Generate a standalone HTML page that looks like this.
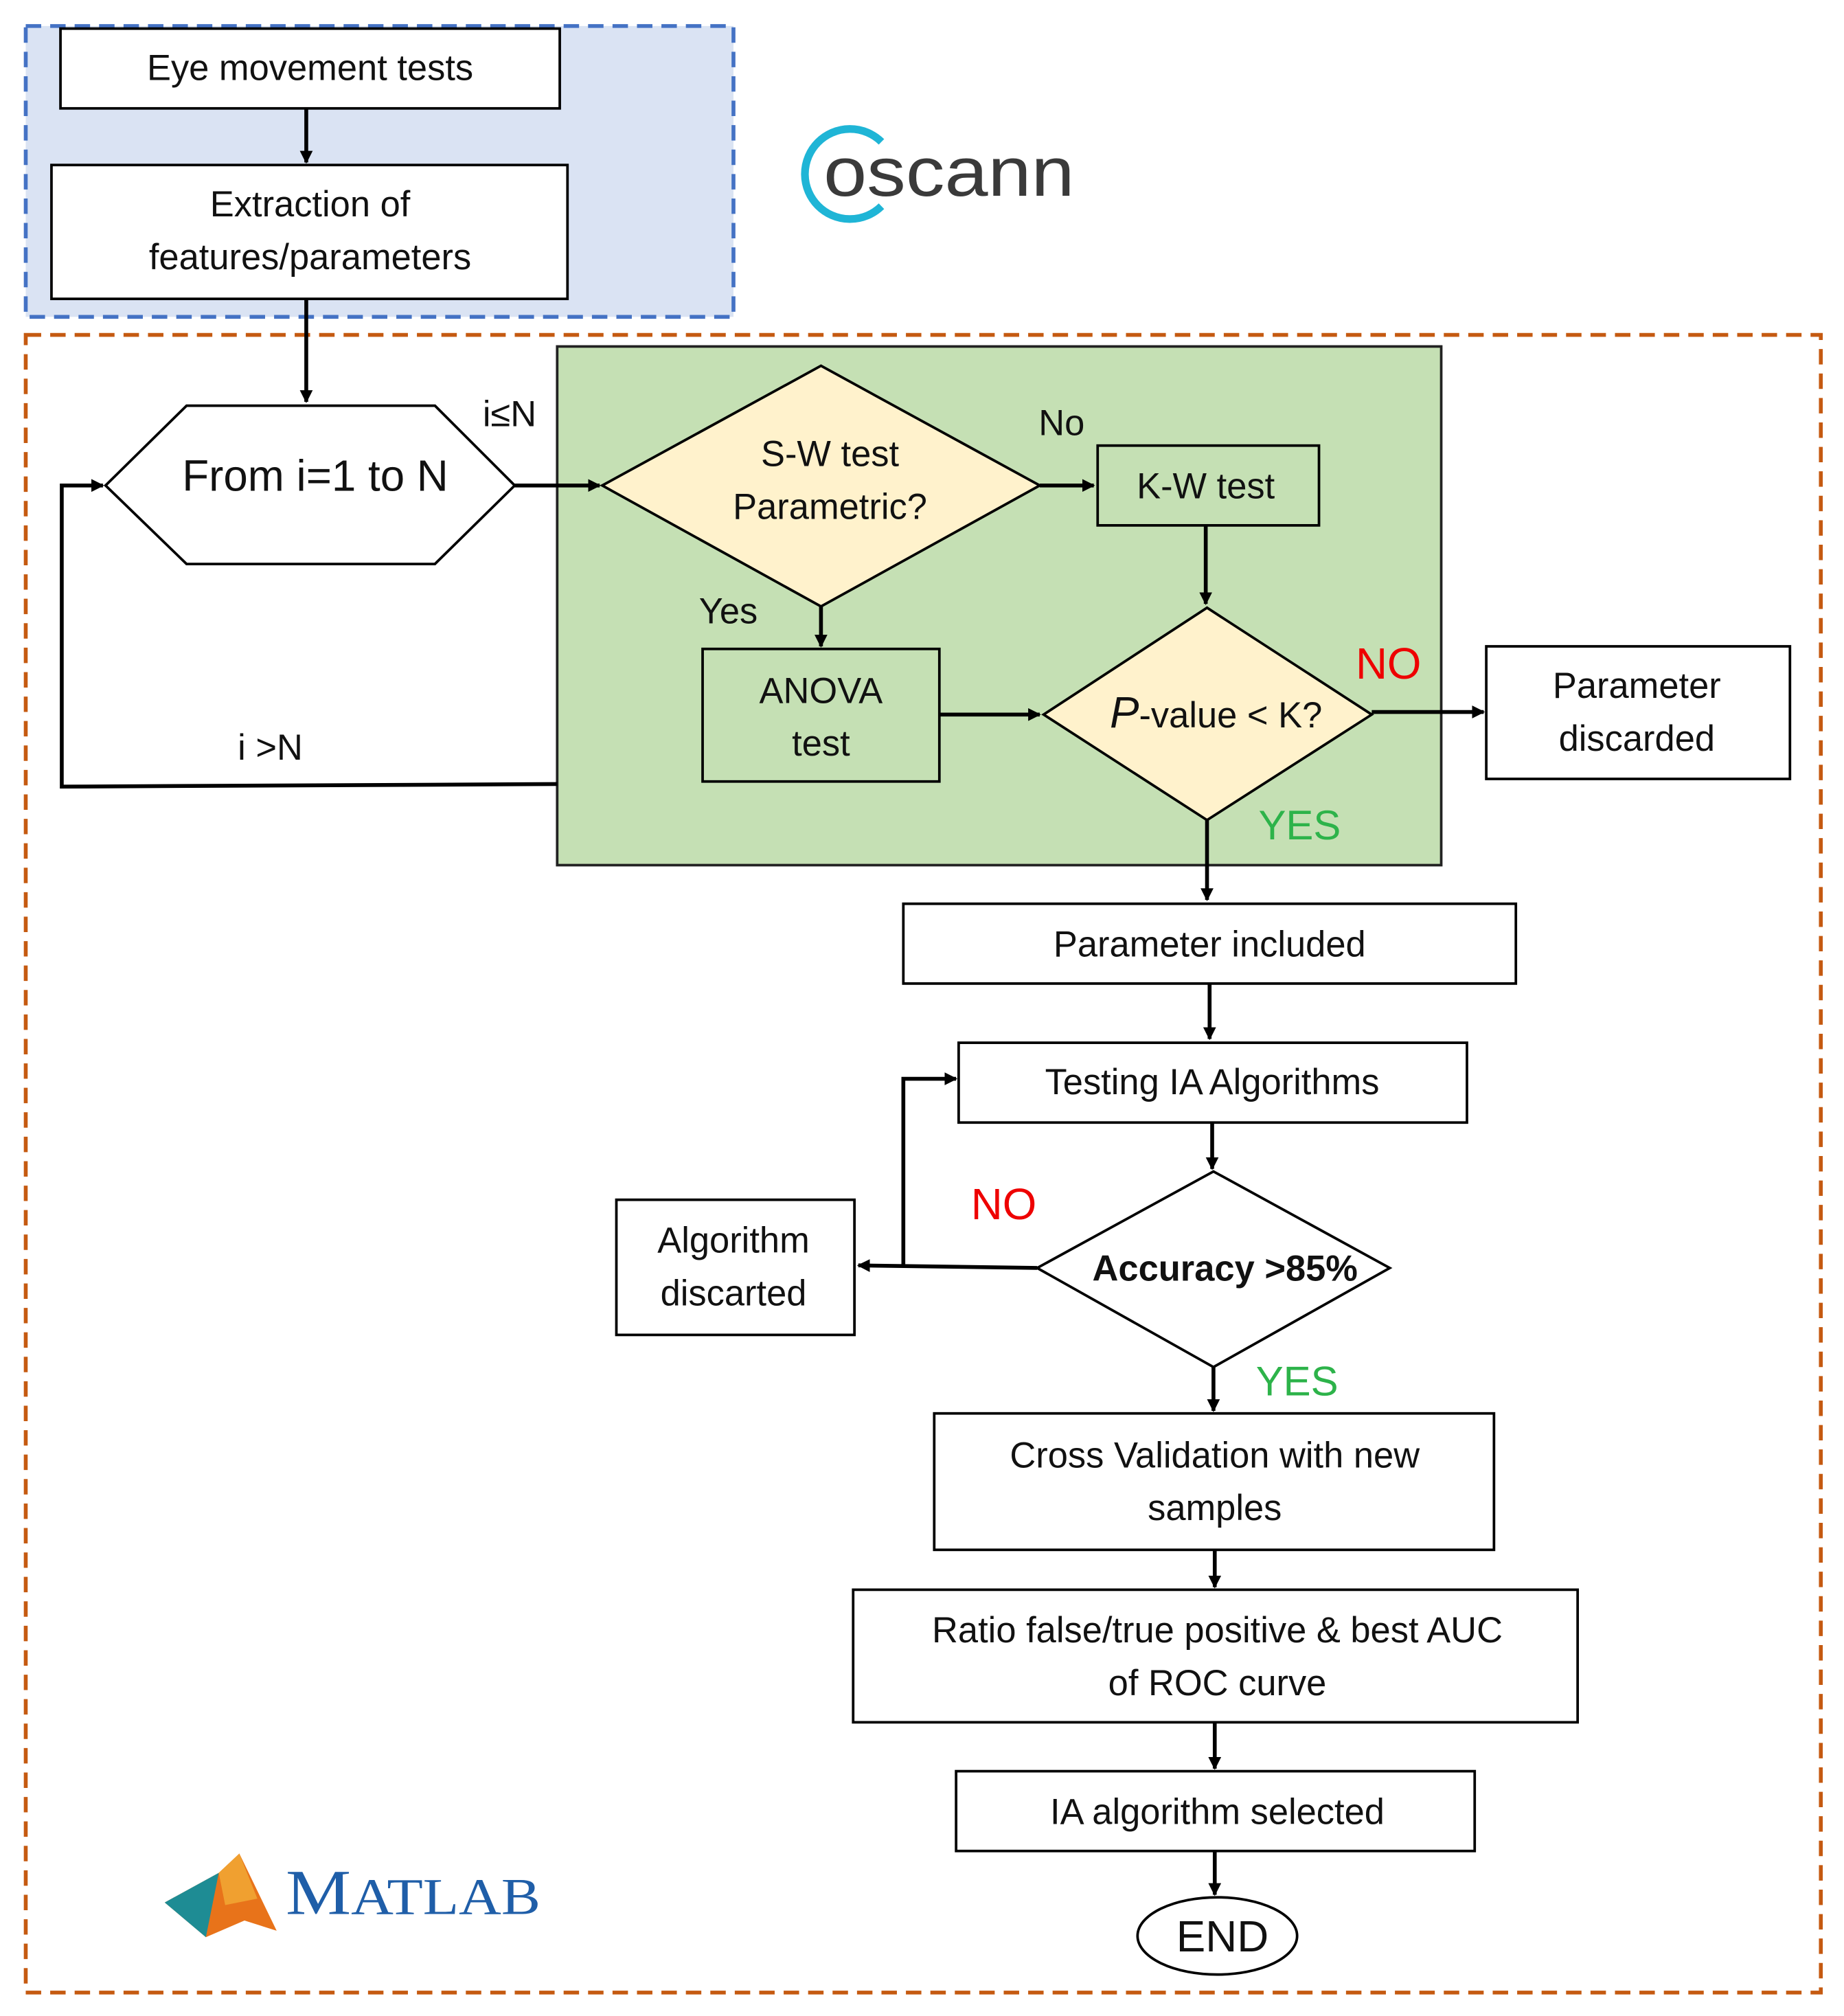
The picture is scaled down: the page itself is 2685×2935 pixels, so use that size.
<!DOCTYPE html>
<html><head><meta charset="utf-8"><style>
html,body{margin:0;padding:0;background:#fff;}
svg{display:block;}
text{font-family:"Liberation Sans",sans-serif;fill:#111;}
</style></head><body>
<svg width="2685" height="2935" viewBox="0 0 1433 1566" xmlns="http://www.w3.org/2000/svg">
<defs>
<marker id="a" markerWidth="10" markerHeight="10" refX="9" refY="5" orient="auto" markerUnits="userSpaceOnUse">
<path d="M0,0 L10,5 L0,10 z" fill="#000"/></marker>
</defs>
<rect width="1433" height="1566" fill="#fff"/>
<rect x="20" y="20" width="550" height="226" fill="#dae3f3" stroke="#4472c4" stroke-width="3" stroke-dasharray="12,7"/>
<rect x="20" y="260" width="1395" height="1288" fill="none" stroke="#c55a11" stroke-width="3" stroke-dasharray="12,7"/>
<rect x="433" y="269" width="687" height="403" fill="#c5e0b4" stroke="#222" stroke-width="2"/>
<g stroke="#000" stroke-width="2" fill="#fff">
<rect x="47" y="22" width="388" height="62"/>
<rect x="40" y="128" width="401" height="104"/>
<polygon points="82,377 145,315 338,315 400,377 338,438 145,438"/>
<polygon points="468,377 638,284 808,377 638,471" fill="#fff2cc"/>
<rect x="853" y="346" width="172" height="62" fill="#c5e0b4"/>
<rect x="546" y="504" width="184" height="103" fill="#c5e0b4"/>
<polygon points="811,555 938,472 1066,555 938,637" fill="#fff2cc"/>
<rect x="1155" y="502" width="236" height="103"/>
<rect x="702" y="702" width="476" height="62"/>
<rect x="745" y="810" width="395" height="62"/>
<polygon points="806,985 943,910 1080,985 943,1062"/>
<rect x="479" y="932" width="185" height="105"/>
<rect x="726" y="1098" width="435" height="106"/>
<rect x="663" y="1235" width="563" height="103"/>
<rect x="743" y="1376" width="403" height="62"/>
<ellipse cx="946" cy="1504" rx="62" ry="30"/>
</g>
<g stroke="#000" stroke-width="3" fill="none" marker-end="url(#a)">
<line x1="238" y1="84" x2="238" y2="126"/>
<line x1="238" y1="232" x2="238" y2="312"/>
<line x1="400" y1="377" x2="466" y2="377"/>
<line x1="808" y1="377" x2="850" y2="377"/>
<line x1="937" y1="408" x2="937" y2="469"/>
<line x1="638" y1="471" x2="638" y2="502"/>
<line x1="730" y1="555" x2="808" y2="555"/>
<line x1="1066" y1="553" x2="1153" y2="553"/>
<line x1="938" y1="637" x2="938" y2="699"/>
<polyline points="433,609 48,611 48,377 80,377"/>
<line x1="940" y1="764" x2="940" y2="807"/>
<line x1="942" y1="872" x2="942" y2="908"/>
<line x1="806" y1="985" x2="667" y2="983"/>
<polyline points="702,983 702,838 743,838"/>
<line x1="943" y1="1062" x2="943" y2="1096"/>
<line x1="944" y1="1204" x2="944" y2="1233"/>
<line x1="944" y1="1338" x2="944" y2="1374"/>
<line x1="944" y1="1438" x2="944" y2="1472"/>
</g>
<g font-size="28" text-anchor="middle">
<text x="241" y="62">Eye movement tests</text>
<text x="241" y="168">Extraction of</text>
<text x="241" y="209">features/parameters</text>
<text x="245" y="381" font-size="34">From i=1 to N</text>
<text x="645" y="362">S-W test</text>
<text x="645" y="403">Parametric?</text>
<text x="937" y="387">K-W test</text>
<text x="638" y="546">ANOVA</text>
<text x="638" y="587">test</text>
<text x="945" y="565"><tspan font-size="34" font-style="italic">P</tspan>-value &lt; K?</text>
<text x="1272" y="542">Parameter</text>
<text x="1272" y="583">discarded</text>
<text x="940" y="743">Parameter included</text>
<text x="942" y="850">Testing IA Algorithms</text>
<text x="952" y="995" font-weight="bold">Accuracy &gt;85%</text>
<text x="570" y="973">Algorithm</text>
<text x="570" y="1014">discarted</text>
<text x="944" y="1140">Cross Validation with new</text>
<text x="944" y="1181">samples</text>
<text x="946" y="1276">Ratio false/true positive &amp; best AUC</text>
<text x="946" y="1317">of ROC curve</text>
<text x="946" y="1417">IA algorithm selected</text>
<text x="950" y="1516" font-size="34">END</text>
<text x="396" y="331">i≤N</text>
<text x="825" y="338">No</text>
<text x="566" y="484">Yes</text>
<text x="210" y="590">i &gt;N</text>
<text x="1079" y="527" font-size="34" style="fill:#e00">NO</text>
<text x="1010" y="652" font-size="32" style="fill:#2db34a">YES</text>
<text x="780" y="947" font-size="34" style="fill:#e00">NO</text>
<text x="1008" y="1084" font-size="32" style="fill:#2db34a">YES</text>
</g>
<path d="M685,110 A35,35 0 1 0 685,160" fill="none" stroke="#1fb5d6" stroke-width="6"/>
<text x="640" y="152" font-size="54" textLength="195" lengthAdjust="spacingAndGlyphs" style="fill:#3a3a3a">oscann</text>
<polygon points="128,1478 170,1455 186,1440 215,1500 190,1492 160,1505" fill="#e8731a"/>
<polygon points="128,1478 170,1455 160,1505" fill="#1e8c94"/>
<polygon points="170,1455 186,1440 200,1475 175,1480" fill="#f0a030"/>
<text x="222" y="1487" font-size="50" textLength="198" lengthAdjust="spacingAndGlyphs" style="fill:#1f5ea8;font-family:'Liberation Serif',serif">M<tspan font-size="40">ATLAB</tspan></text>
</svg>
</body></html>
